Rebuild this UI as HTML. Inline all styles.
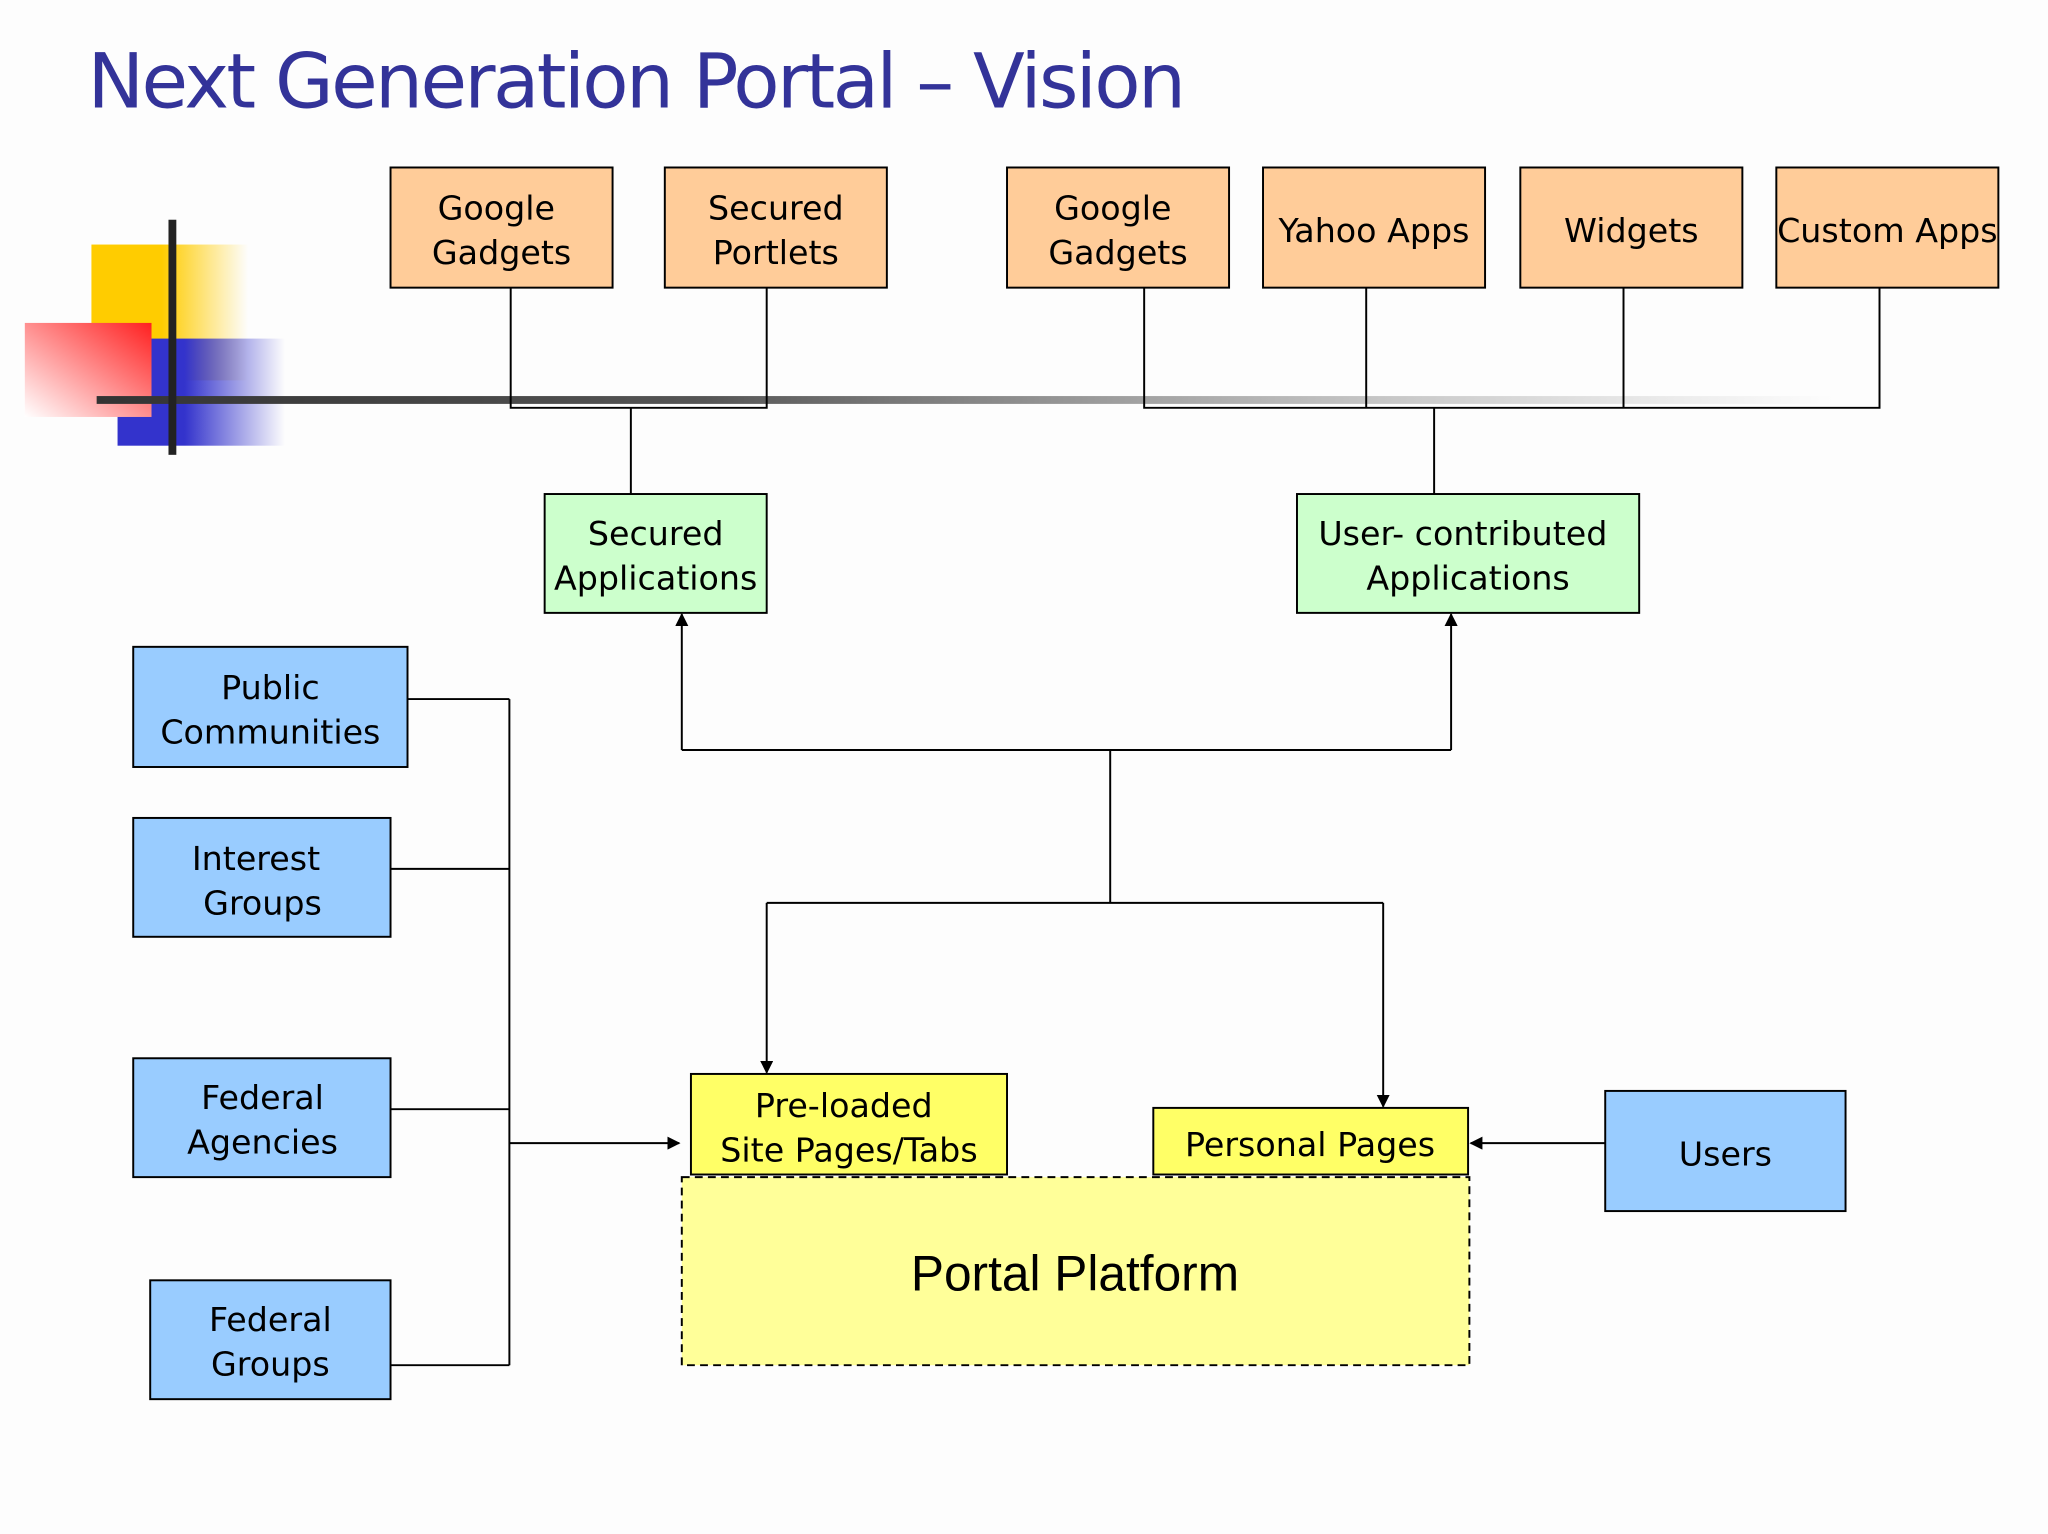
<!DOCTYPE html>
<html><head><meta charset="utf-8"><style>
html,body{margin:0;padding:0;background:#fdfdfd;}
svg{display:block;}
text{font-family:"DejaVu Sans","Liberation Sans",sans-serif;font-size:25.5px;fill:#000;}
</style></head><body>
<svg width="2048" height="1534" viewBox="0 0 1568 1174" xmlns="http://www.w3.org/2000/svg">
<defs>
<linearGradient id="gy" x1="0" x2="1" y1="0" y2="0"><stop offset="0.45" stop-color="#ffcc00"/><stop offset="1" stop-color="#ffcc00" stop-opacity="0"/></linearGradient>
<linearGradient id="gb" x1="0" x2="1" y1="0" y2="0"><stop offset="0.4" stop-color="#3333cc"/><stop offset="1" stop-color="#3333cc" stop-opacity="0"/></linearGradient>
<linearGradient id="gr" x1="1" x2="0" y1="0" y2="1"><stop offset="0" stop-color="#ff2020"/><stop offset="1" stop-color="#ffffff"/></linearGradient>
<linearGradient id="gl" x1="0" x2="1" y1="0" y2="0"><stop offset="0" stop-color="#333"/><stop offset="0.35" stop-color="#555"/><stop offset="1" stop-color="#888" stop-opacity="0"/></linearGradient>
<marker id="ar" markerWidth="10" markerHeight="10" refX="9" refY="5" orient="auto" markerUnits="userSpaceOnUse"><path d="M0,0 L10,5 L0,10 z" fill="#000"/></marker>
</defs>
<rect width="1568" height="1174" fill="#fdfdfd"/>
<text x="67" y="82" style="font-size:58px;fill:#333399" textLength="841">Next Generation Portal – Vision</text>
<rect x="70" y="187" width="120" height="104" fill="url(#gy)"/>
<rect x="90" y="259" width="128" height="82" fill="url(#gb)"/>
<rect x="19" y="247" width="97" height="72" fill="url(#gr)"/>
<rect x="74" y="303" width="1330" height="6" fill="url(#gl)"/>
<rect x="129" y="168" width="6" height="180" fill="#222"/>
<g fill="none" stroke="#000" stroke-width="1.5">
<path d="M391 220V312H587V220M483 312V378"/>
<path d="M876 220V312H1439V220M1046 220V312M1243 220V312M1098 312V378"/>
<path d="M850 574V691M522 574H1111M587 691H1059"/>
<path d="M522 574V470" marker-end="url(#ar)"/>
<path d="M1111 574V470" marker-end="url(#ar)"/>
<path d="M587 691V821" marker-end="url(#ar)"/>
<path d="M1059 691V847" marker-end="url(#ar)"/>
<path d="M312 535H390M299 665H390M299 849H390M299 1045H390M390 535V1045"/>
<path d="M390 875H520" marker-end="url(#ar)"/>
<path d="M1229 875H1126" marker-end="url(#ar)"/>
</g>
<g stroke="#000" stroke-width="1.5">
<rect x="299" y="128" width="170" height="92" fill="#ffcc99"/>
<rect x="509" y="128" width="170" height="92" fill="#ffcc99"/>
<rect x="771" y="128" width="170" height="92" fill="#ffcc99"/>
<rect x="967" y="128" width="170" height="92" fill="#ffcc99"/>
<rect x="1164" y="128" width="170" height="92" fill="#ffcc99"/>
<rect x="1360" y="128" width="170" height="92" fill="#ffcc99"/>
<rect x="417" y="378" width="170" height="91" fill="#ccffcc"/>
<rect x="993" y="378" width="262" height="91" fill="#ccffcc"/>
<rect x="102" y="495" width="210" height="92" fill="#99ccff"/>
<rect x="102" y="626" width="197" height="91" fill="#99ccff"/>
<rect x="102" y="810" width="197" height="91" fill="#99ccff"/>
<rect x="115" y="980" width="184" height="91" fill="#99ccff"/>
<rect x="1229" y="835" width="184" height="92" fill="#99ccff"/>
<rect x="529" y="822" width="242" height="77" fill="#ffff66"/>
<rect x="883" y="848" width="241" height="51" fill="#ffff66"/>
<rect x="522" y="901" width="603" height="144" fill="#ffff99" stroke-dasharray="6,4"/>
</g>
<g text-anchor="middle">
<text x="380" y="168">Google</text><text x="384" y="202">Gadgets</text>
<text x="594" y="168">Secured</text><text x="594" y="202">Portlets</text>
<text x="852" y="168">Google</text><text x="856" y="202">Gadgets</text>
<text x="1052" y="185">Yahoo Apps</text>
<text x="1249" y="185">Widgets</text>
<text x="1445" y="185">Custom Apps</text>
<text x="502" y="417">Secured</text><text x="502" y="451">Applications</text>
<text x="1120" y="417">User- contributed</text><text x="1124" y="451">Applications</text>
<text x="207" y="535">Public</text><text x="207" y="569">Communities</text>
<text x="196" y="666">Interest</text><text x="201" y="700">Groups</text>
<text x="201" y="849">Federal</text><text x="201" y="883">Agencies</text>
<text x="207" y="1019">Federal</text><text x="207" y="1053">Groups</text>
<text x="1321" y="892">Users</text>
<text x="646" y="855">Pre-loaded</text><text x="650" y="889">Site Pages/Tabs</text>
<text x="1003" y="885">Personal Pages</text>
<text x="823" y="988" style="font-family:'Liberation Sans',sans-serif;font-size:38px">Portal Platform</text>
</g>
</svg>
</body></html>
